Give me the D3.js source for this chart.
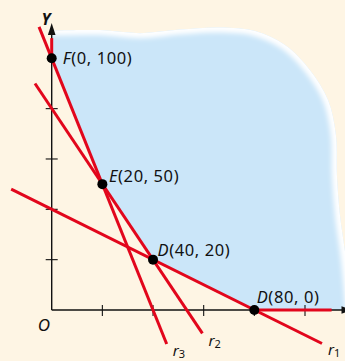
<!DOCTYPE html>
<html>
<head>
<meta charset="utf-8">
<script src="https://cdn.jsdelivr.net/npm/d3@7"></script>
<style>
  html, body { margin: 0; padding: 0; background: #fef5e4; }
  svg { display: block; }
  text { font-family: "Noto Sans", "Open Sans", sans-serif; fill: #111; }
</style>
</head>
<body>
<svg id="chart" width="345" height="361"></svg>
<script>
// ---- data ----
const vertexNames = ["F", "E", "D", "D"];
const vertexX = [0, 20, 40, 80];
const vertexY = [100, 50, 20, 0];

const lineNames = ["1", "2", "3"];            // r1, r2, r3
const lineStartX = [-16, -6.6, -5];
const lineStartY = [48, 90, 112.5];
const lineEndX = [106.7, 59.5, 45.4];
const lineEndY = [-13.3, -9.3, -13.5];

const xTicks = [20, 40, 60, 80, 100];
const yTicks = [20, 40, 60, 80];

// decorative wavy outline of the feasible region (data units)
const outlineX = [0, 19, 35, 50.6, 66.4, 80.3, 92.1, 101.9, 109.1, 112.2, 112.6, 113.8, 116.2, 118];
const outlineY = [111, 111.2, 110, 111.4, 112.2, 110.8, 105.3, 95.4, 83.4, 69.5, 53.6, 37.7, 19.9, 0];

// ---- layout ----
const svg = d3.select("#chart");
const W = 345, H = 361;
const x = d3.scaleLinear().domain([0, 100]).range([51.7, 305]);
const y = d3.scaleLinear().domain([0, 100]).range([310, 58.3]);

const RED = "#e2061c";
const BLUE = "#cbe6f9";

svg.append("rect").attr("width", W).attr("height", H).attr("fill", "#fef5e4");

const defs = svg.append("defs");
defs.append("filter").attr("id", "blur")
  .attr("x", "-20%").attr("y", "-20%").attr("width", "140%").attr("height", "140%")
  .append("feGaussianBlur").attr("stdDeviation", 2.4);

const outline = outlineX.map((d, i) => [x(d), y(outlineY[i])]);
const boundary = vertexX.slice().reverse().map((d, i) => [x(d), y(vertexY[vertexY.length - 1 - i])]);

const curve = d3.line().curve(d3.curveCatmullRom.alpha(0.5));
const outlinePath = curve(outline);
const regionPath = outlinePath + boundary.map(p => "L" + p[0] + "," + p[1]).join("") + "Z";

defs.append("clipPath").attr("id", "regionClip").append("path").attr("d", regionPath);

svg.append("path").attr("d", regionPath).attr("fill", BLUE);
svg.append("g").attr("clip-path", "url(#regionClip)")
  .append("path").attr("d", outlinePath)
  .attr("fill", "none").attr("stroke", "#ffffff").attr("stroke-width", 10)
  .attr("filter", "url(#blur)");

// ---- axes ----
const axes = svg.append("g").attr("stroke", "#111").attr("fill", "none");
axes.append("line").attr("x1", x(0)).attr("x2", 344).attr("y1", y(0)).attr("y2", y(0)).attr("stroke-width", 1.4);
axes.append("line").attr("x1", x(0)).attr("x2", x(0)).attr("y1", y(0)).attr("y2", 34).attr("stroke-width", 1.4);
svg.append("path").attr("fill", "#111")
  .attr("d", `M${x(0)},23 L${x(0) + 3.8},35 L${x(0) - 3.8},35 Z`);
svg.append("path").attr("fill", "#111")
  .attr("d", `M352,${y(0)} L341.5,${y(0) - 3.8} L341.5,${y(0) + 3.8} Z`);

axes.selectAll(".xt").data(xTicks).join("line")
  .attr("x1", d => x(d)).attr("x2", d => x(d))
  .attr("y1", y(0) - 5).attr("y2", y(0) + 6).attr("stroke-width", 1.1);
axes.selectAll(".yt").data(yTicks).join("line")
  .attr("y1", d => y(d)).attr("y2", d => y(d))
  .attr("x1", x(0) - 6).attr("x2", x(0) + 6).attr("stroke-width", 1.1);

// ---- constraint lines ----
const lg = svg.append("g").attr("stroke", RED).attr("stroke-width", 3).attr("fill", "none");
lineNames.forEach((n, i) => {
  lg.append("line")
    .attr("x1", x(lineStartX[i])).attr("y1", y(lineStartY[i]))
    .attr("x2", x(lineEndX[i])).attr("y2", y(lineEndY[i]));
});
lg.append("line").attr("x1", x(80)).attr("x2", x(110.5)).attr("y1", y(0)).attr("y2", y(0));
lg.append("line").attr("x1", x(0)).attr("x2", x(0)).attr("y1", y(100)).attr("y2", y(108));

const rDy = [12, 13, 12];
lineNames.forEach((n, i) => {
  const t = svg.append("text")
    .attr("x", x(lineEndX[i]) + 6).attr("y", y(lineEndY[i]) + rDy[i])
    .attr("font-size", 15).attr("font-style", "italic");
  t.append("tspan").text("r");
  t.append("tspan").attr("font-size", 11).attr("dy", 2).attr("font-style", "normal").text(n);
});

// ---- vertices ----
const labelDx = [11, 6.6, 4.6, 2.4];
const labelDy = [6, -2, -4, -7];
vertexX.forEach((vx, i) => {
  svg.append("circle").attr("cx", x(vx)).attr("cy", y(vertexY[i])).attr("r", 5).attr("fill", "#000");
  const t = svg.append("text").attr("x", x(vx) + labelDx[i]).attr("y", y(vertexY[i]) + labelDy[i])
    .attr("font-size", 16.5).attr("letter-spacing", 0.6);
  t.append("tspan").attr("font-style", "italic").text(vertexNames[i]);
  t.append("tspan").text(`(${vx}, ${vertexY[i]})`);
});

// axis labels
svg.append("text").attr("x", 46).attr("y", 25).attr("text-anchor", "middle")
  .attr("font-size", 16).attr("font-style", "italic").attr("font-weight", "bold").text("Y");
svg.append("text").attr("x", 44).attr("y", 331).attr("text-anchor", "middle")
  .attr("font-size", 17).attr("font-style", "italic").text("O");
</script>
</body>
</html>
